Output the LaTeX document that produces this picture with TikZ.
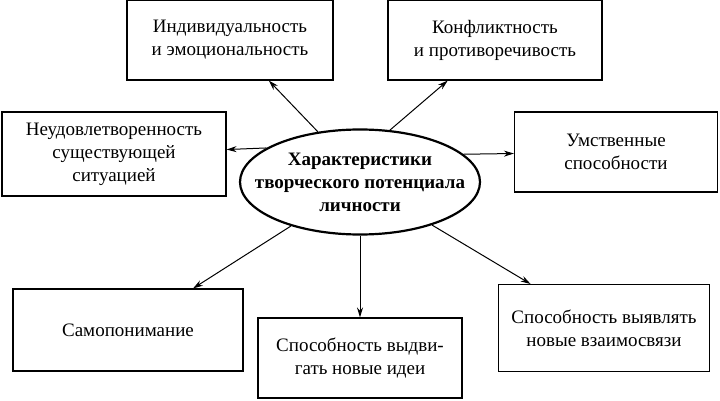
\documentclass[tikz,border=0pt]{standalone}
\usepackage{fontspec}
\setmainfont{Liberation Serif}
\usetikzlibrary{arrows.meta, shapes.geometric}
\tikzset{
    base/.style={
        font=\fontsize{19}{23}\selectfont,
        align=center
    },
    trait/.style={
        base,
        rectangle,
        draw=black,
        line width=1.1pt,
        inner sep=0pt
    },
    core/.style={
        base,
        ellipse,
        draw=black,
        line width=2.2pt,
        font=\fontsize{19}{23}\selectfont\bfseries,
        minimum width=240pt,
        minimum height=105pt,
        inner xsep=-26pt,
        inner ysep=0pt
    },
    flow/.style={
        -{Stealth[length=10pt,width=6pt]},
        line width=1pt
    }
}
\begin{document}
\begin{tikzpicture}[x=1pt, y=-1pt]
  \useasboundingbox (0,0) rectangle (720,401);

  % Central node
  \node[core] (core) at (360,182) {Характеристики\\творческого потенциала\\личности};

  % Traits
  \node[trait, minimum width=206pt, minimum height=80pt] (indiv) at (230,40) {Индивидуальность\\и эмоциональность};
  \node[trait, minimum width=214pt, minimum height=80pt] (confl) at (495,40) {Конфликтность\\и противоречивость};
  \node[trait, minimum width=224pt, minimum height=84pt] (dissat) at (114,154) {Неудовлетворенность\\существующей\\ситуацией};
  \node[trait, minimum width=203pt, minimum height=80pt] (mind) at (616,152) {Умственные\\способности};
  \node[trait, minimum width=230pt, minimum height=82pt] (self) at (128,330) {Самопонимание};
  \node[trait, minimum width=204pt, minimum height=80pt] (ideas) at (360,358) {Способность выдви-\\гать новые идеи};
  \node[trait, minimum width=211pt, minimum height=87pt] (links) at (604,328) {Способность выявлять\\новые взаимосвязи};

  % Connections
  \draw[flow] (core.130) -- (indiv);
  \draw[flow] (core.60) -- (confl);
  \draw[flow] (core.160) -- (dissat);
  \draw[flow] (core.15) -- (mind);
  \draw[flow] (core) -- (self);
  \draw[flow] (core) -- (ideas);
  \draw[flow] (core) -- (links);
\end{tikzpicture}
\end{document}
